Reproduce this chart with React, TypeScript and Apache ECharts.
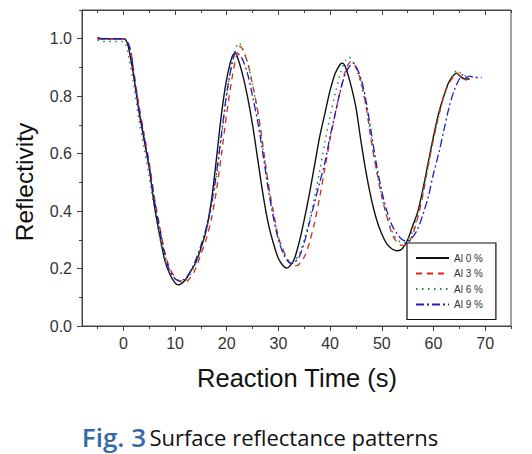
import React, { useEffect, useRef } from "react";
import * as echarts from "echarts";

// ---- data (time in s, reflectivity) ----
const seriesNames = ["Al 0 %", "Al 3 %", "Al 6 %", "Al 9 %"];

const al0: [number, number][] = [
  [-5, 1.0], [-4, 1.0], [-3, 1.0], [-2, 1.0], [-1, 1.0], [0, 1.0], [0.5, 0.995], [1, 0.97],
  [2, 0.87], [3, 0.75], [4, 0.65], [5, 0.55], [6, 0.42], [7, 0.32], [8, 0.23], [9, 0.18],
  [10, 0.15], [10.6, 0.143], [11, 0.145], [12, 0.16], [13, 0.19], [14, 0.22], [15, 0.27],
  [16, 0.33], [17, 0.43], [18, 0.58], [19, 0.74], [20, 0.86], [21, 0.935], [21.6, 0.95],
  [22, 0.94], [23, 0.88], [24, 0.8], [25, 0.7], [26, 0.58], [27, 0.46], [28, 0.36], [29, 0.29],
  [30, 0.235], [31, 0.208], [31.6, 0.202], [32, 0.205], [33, 0.23], [34, 0.29], [35, 0.37],
  [36, 0.46], [37, 0.56], [38, 0.66], [39, 0.74], [40, 0.82], [41, 0.88], [42, 0.912],
  [42.4, 0.915], [43, 0.9], [44, 0.84], [45, 0.76], [46, 0.64], [47, 0.53], [48, 0.44],
  [49, 0.37], [50, 0.32], [51, 0.285], [52, 0.268], [53, 0.262], [54, 0.27], [55, 0.3],
  [56, 0.35], [57, 0.4], [58, 0.48], [59, 0.57], [60, 0.66], [61, 0.74], [62, 0.8], [63, 0.85],
  [64, 0.875], [64.5, 0.88], [65, 0.872], [66, 0.86], [67, 0.86],
];

const al3: [number, number][] = [
  [-5, 1.0], [-4, 1.0], [-3, 1.0], [-2, 1.0], [-1, 1.0], [0, 1.0], [0.8, 0.99], [1.5, 0.95],
  [2, 0.89], [3, 0.77], [4, 0.67], [5, 0.57], [6, 0.45], [7, 0.35], [8, 0.26], [9, 0.2],
  [10, 0.17], [11, 0.155], [12, 0.152], [13, 0.17], [14, 0.2], [15, 0.25], [16, 0.3], [17, 0.37],
  [18, 0.47], [19, 0.6], [20, 0.74], [21, 0.86], [22, 0.95], [22.6, 0.973], [23, 0.965],
  [24, 0.92], [25, 0.84], [26, 0.75], [27, 0.63], [28, 0.5], [29, 0.4], [30, 0.31], [31, 0.26],
  [32, 0.225], [33, 0.21], [33.5, 0.21], [34, 0.215], [35, 0.24], [36, 0.29], [37, 0.36],
  [38, 0.45], [39, 0.55], [40, 0.65], [41, 0.74], [42, 0.82], [43, 0.89], [44, 0.92],
  [44.5, 0.915], [45, 0.9], [46, 0.85], [47, 0.76], [48, 0.64], [49, 0.54], [50, 0.45],
  [51, 0.38], [52, 0.32], [53, 0.29], [54, 0.28], [55, 0.285], [56, 0.32], [57, 0.38],
  [58, 0.46], [59, 0.56], [60, 0.65], [61, 0.73], [62, 0.8], [63, 0.845], [64, 0.87],
  [64.6, 0.88], [65, 0.872], [66, 0.858], [66.5, 0.857],
];

const al6: [number, number][] = [
  [-5, 0.995], [-4, 0.99], [-3, 0.99], [-2, 0.99], [-1, 0.99], [0, 0.99], [0.5, 0.98], [1, 0.94],
  [2, 0.84], [3, 0.72], [4, 0.62], [5, 0.52], [6, 0.41], [7, 0.31], [8, 0.23], [9, 0.19],
  [10, 0.165], [11, 0.158], [11.5, 0.157], [12, 0.16], [13, 0.18], [14, 0.22], [15, 0.27],
  [16, 0.33], [17, 0.41], [18, 0.52], [19, 0.66], [20, 0.8], [21, 0.92], [22, 0.98],
  [22.3, 0.985], [23, 0.97], [24, 0.92], [25, 0.84], [26, 0.74], [27, 0.62], [28, 0.5],
  [29, 0.39], [30, 0.31], [31, 0.26], [32, 0.225], [32.5, 0.22], [33, 0.225], [34, 0.25],
  [35, 0.3], [36, 0.37], [37, 0.45], [38, 0.54], [39, 0.64], [40, 0.73], [41, 0.81], [42, 0.88],
  [43, 0.925], [43.7, 0.936], [44, 0.93], [45, 0.9], [46, 0.84], [47, 0.76], [48, 0.65],
  [49, 0.54], [50, 0.45], [51, 0.38], [52, 0.33], [53, 0.3], [54, 0.29], [54.5, 0.29],
  [55, 0.3], [56, 0.33], [57, 0.39], [58, 0.47], [59, 0.56], [60, 0.65], [61, 0.73], [62, 0.8],
  [63, 0.85], [64, 0.88], [64.6, 0.89], [65, 0.885], [66, 0.872], [67, 0.87],
];

const al9: [number, number][] = [
  [-5, 1.005], [-4, 1.0], [-3, 1.0], [-2, 1.0], [-1, 1.0], [0, 1.0], [0.8, 0.99], [1.5, 0.95],
  [2, 0.88], [3, 0.76], [4, 0.66], [5, 0.56], [6, 0.44], [7, 0.34], [8, 0.25], [9, 0.19],
  [10, 0.165], [11, 0.155], [11.5, 0.16], [12, 0.165], [13, 0.19], [14, 0.23], [15, 0.28],
  [16, 0.34], [17, 0.42], [18, 0.53], [19, 0.67], [20, 0.81], [21, 0.91], [21.8, 0.955],
  [22, 0.952], [23, 0.93], [24, 0.88], [25, 0.8], [26, 0.71], [27, 0.6], [28, 0.48], [29, 0.38],
  [30, 0.3], [31, 0.25], [32, 0.222], [32.6, 0.218], [33, 0.22], [34, 0.24], [35, 0.29],
  [36, 0.36], [37, 0.43], [38, 0.5], [39, 0.57], [40, 0.66], [41, 0.74], [42, 0.82], [43, 0.88],
  [44, 0.91], [44.5, 0.915], [45, 0.905], [46, 0.86], [47, 0.78], [48, 0.67], [49, 0.56],
  [50, 0.47], [51, 0.4], [52, 0.35], [53, 0.32], [54, 0.3], [55, 0.295], [56, 0.31], [57, 0.34],
  [58, 0.39], [59, 0.45], [60, 0.53], [61, 0.6], [62, 0.68], [63, 0.76], [64, 0.82], [65, 0.86],
  [65.7, 0.875], [66.3, 0.865], [67, 0.87], [68, 0.865], [69.3, 0.865],
];

const xMajorTicks = [0, 10, 20, 30, 40, 50, 60, 70];
const xMinorTicks = [-5, 5, 15, 25, 35, 45, 55, 65, 75];
const yMajorTicks = [0, 0.2, 0.4, 0.6, 0.8, 1.0];
const yMinorTicks = [0.1, 0.3, 0.5, 0.7, 0.9, 1.1];

const xTitle = "Reaction Time (s)";
const yTitle = "Reflectivity";
const captionFig = "Fig. 3";
const captionText = "Surface reflectance patterns";

const X_MIN = -8;
const X_MAX = 75;
const Y_MIN = 0;
const Y_MAX = 1.1;

const AXIS_COLOR = "#444";
const LABEL_COLOR = "#333";

export default function App() {
  const ref = useRef<HTMLDivElement>(null);

  useEffect(() => {
    if (!ref.current) return;
    document.body.style.margin = "0";
    const chart = echarts.init(ref.current, null, { renderer: "svg" });

    const baseX = {
      type: "value" as const,
      min: X_MIN,
      max: X_MAX,
      splitLine: { show: false },
    };
    const baseY = {
      type: "value" as const,
      min: Y_MIN,
      max: Y_MAX,
      splitLine: { show: false },
    };

    const lineSeries = (name: string, data: [number, number][], color: string, type: any, width = 1.3) => ({
      name,
      type: "line",
      data,
      xAxisIndex: 0,
      yAxisIndex: 0,
      symbol: "none",
      smooth: 0.3,
      lineStyle: { color, width, type },
      itemStyle: { color },
    });

    chart.setOption({
      animation: false,
      backgroundColor: "#fff",
      grid: {
        left: 82,
        top: 10,
        right: 21,
        bottom: 128,
        show: true,
        borderColor: AXIS_COLOR,
        borderWidth: 1,
        backgroundColor: "transparent",
      },
      xAxis: [
        {
          ...baseX,
          position: "bottom",
          axisLine: { show: true, onZero: false, lineStyle: { color: AXIS_COLOR, width: 1 } },
          axisTick: { show: true, length: 5, customValues: xMajorTicks, lineStyle: { color: AXIS_COLOR } },
          axisLabel: {
            show: true,
            customValues: xMajorTicks,
            color: LABEL_COLOR,
            fontFamily: "Liberation Sans, Arial",
            fontSize: 16,
            margin: 9,
          },
        },
        {
          ...baseX,
          position: "bottom",
          axisLine: { show: false, onZero: false },
          axisTick: { show: true, length: 3, customValues: xMinorTicks, lineStyle: { color: AXIS_COLOR } },
          axisLabel: { show: false },
        },
        {
          ...baseX,
          position: "top",
          axisLine: { show: true, onZero: false, lineStyle: { color: AXIS_COLOR, width: 1 } },
          axisTick: { show: true, inside: true, length: 5, customValues: xMajorTicks, lineStyle: { color: AXIS_COLOR } },
          axisLabel: { show: false },
        },
        {
          ...baseX,
          position: "top",
          axisLine: { show: false, onZero: false },
          axisTick: { show: true, inside: true, length: 3, customValues: xMinorTicks, lineStyle: { color: AXIS_COLOR } },
          axisLabel: { show: false },
        },
      ],
      yAxis: [
        {
          ...baseY,
          position: "left",
          axisLine: { show: true, onZero: false, lineStyle: { color: AXIS_COLOR, width: 1 } },
          axisTick: { show: true, length: 5, customValues: yMajorTicks, lineStyle: { color: AXIS_COLOR } },
          axisLabel: {
            show: true,
            customValues: yMajorTicks,
            formatter: (v: number) => v.toFixed(1),
            color: LABEL_COLOR,
            fontFamily: "Liberation Sans, Arial",
            fontSize: 16,
            margin: 10,
          },
        },
        {
          ...baseY,
          position: "left",
          axisLine: { show: false, onZero: false },
          axisTick: { show: true, length: 3, customValues: yMinorTicks, lineStyle: { color: AXIS_COLOR } },
          axisLabel: { show: false },
        },
      ],
      legend: {
        show: true,
        orient: "vertical",
        left: 407,
        top: 243,
        padding: [10, 13, 10, 8],
        itemWidth: 33,
        itemHeight: 10,
        itemGap: 5.5,
        borderColor: "#111",
        borderWidth: 1.2,
        backgroundColor: "#fff",
        itemStyle: { opacity: 0 },
        textStyle: { color: LABEL_COLOR, fontFamily: "Liberation Sans, Arial", fontSize: 10 },
        data: seriesNames,
      },
      series: [
        lineSeries(seriesNames[0], al0, "#111111", "solid", 1.4),
        lineSeries(seriesNames[1], al3, "#e0241c", [6, 5], 1.3),
        lineSeries(seriesNames[2], al6, "#1e8c32", [1.5, 4.5], 1.5),
        lineSeries(seriesNames[3], al9, "#1c1cc8", [8, 3, 2, 3], 1.3),
      ],
      graphic: [
        {
          type: "text",
          x: 24,
          y: 182,
          rotation: Math.PI / 2,
          style: {
            text: yTitle,
            fill: "#111",
            font: '24.5px "Liberation Sans", Arial',
            align: "center",
            verticalAlign: "middle",
          },
        },
        {
          type: "text",
          x: 297,
          y: 378,
          style: {
            text: xTitle,
            fill: "#111",
            font: '25.5px "Liberation Sans", Arial',
            align: "center",
            verticalAlign: "middle",
          },
        },
        {
          type: "text",
          x: 260,
          y: 437,
          style: {
            text: `{a|${captionFig}} {b|${captionText}}`,
            align: "center",
            verticalAlign: "middle",
            rich: {
              a: { fontFamily: "Open Sans", fontSize: 26, fontWeight: 600, fill: "#366aa6", color: "#366aa6" },
              b: { fontFamily: "Open Sans", fontSize: 22, fill: "#111", color: "#111" },
            },
          },
        },
      ],
    });

    return () => chart.dispose();
  }, []);

  return <div ref={ref} style={{ width: 532, height: 454 }} />;
}
